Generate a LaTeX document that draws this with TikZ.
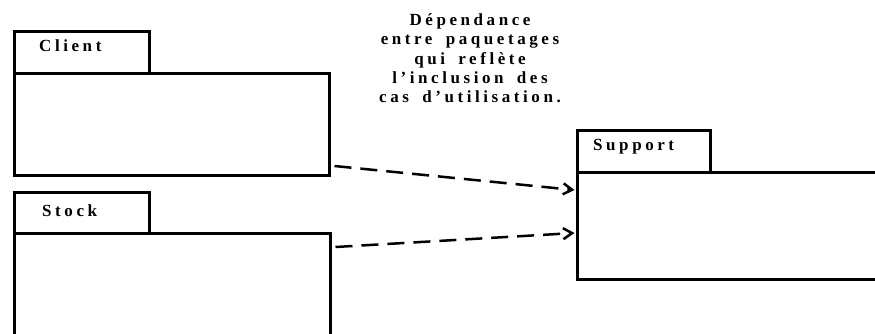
\documentclass[tikz,border=0pt]{standalone}
\usepackage{fontspec}
\setmainfont{Liberation Serif}[LetterSpace=21, WordSpace=1.7]
\usetikzlibrary{arrows.meta,calc}

\tikzset{
  pkgbox/.style={draw=black, line width=3pt, fill=white, inner sep=0pt,
    anchor=north west},
  pkglabel/.style={anchor=base west, inner sep=0pt,
    font=\fontsize{17}{19}\selectfont\bfseries},
  depline/.style={draw=black, line width=2.5pt, dash pattern=on 17pt off 9pt,
    -{Straight Barb[length=9pt,width=11pt,line width=2.5pt]}},
  notetext/.style={align=center, inner sep=0pt, anchor=north,
    font=\fontsize{17}{19.3}\selectfont\bfseries}
}

\begin{document}
\begin{tikzpicture}[x=1pt,y=-1pt]
  \path[use as bounding box, clip] (0,0) rectangle (875,334);
  \fill[white] (0,0) rectangle (875,334);

  % package Client
  \node[pkgbox, minimum width=135pt, minimum height=41.5pt] (clientTab) at (12.5,30.5) {};
  \node[pkgbox, minimum width=315pt, minimum height=102pt] (clientBody) at (12.5,72) {};
  \node[pkglabel] (clientName) at (39,51.5) {Client};

  % package Stock
  \node[pkgbox, minimum width=135pt, minimum height=41.5pt] (stockTab) at (12.5,190.5) {};
  \node[pkgbox, minimum width=316pt, minimum height=130pt] (stockBody) at (12.5,232) {};
  \node[pkglabel] (stockName) at (42,216) {Stock};

  % package Support
  \node[pkgbox, minimum width=133pt, minimum height=41.5pt] (supportTab) at (576,129.5) {};
  \node[pkgbox, minimum width=330pt, minimum height=107pt] (supportBody) at (576,171) {};
  \node[pkglabel] (supportName) at (593,150) {Support};

  % note
  \node[notetext] (note) at (470,13.5)
    {Dépendance\\entre paquetages\\qui reflète\\l'inclusion des\\cas d'utilisation.};

  % dependencies
  \coordinate (clientOut) at ($(clientBody.south east)+(4,-11)$);
  \coordinate (stockOut) at ($(stockBody.north east)+(4,15)$);
  \coordinate (supportInA) at ($(supportBody.north west)+(-1.5,19)$);
  \coordinate (supportInB) at ($(supportBody.north west)+(-1.5,62)$);
  \draw[depline] (clientOut) -- (supportInA);
  \draw[depline] (stockOut) -- (supportInB);
\end{tikzpicture}
\end{document}
